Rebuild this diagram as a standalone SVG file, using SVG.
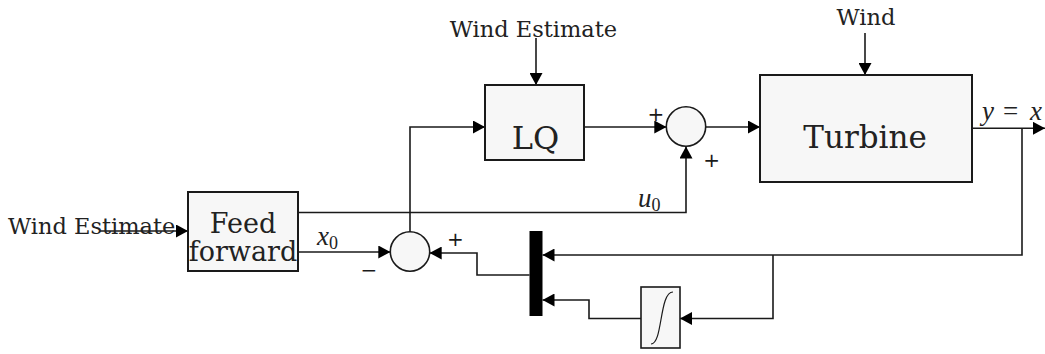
<svg xmlns="http://www.w3.org/2000/svg" width="1045" height="354" viewBox="0 0 1045 354">
<style>
.box{fill:#f7f7f7;stroke:#1a1a1a;stroke-width:2}
.sum{fill:#f7f7f7;stroke:#1a1a1a;stroke-width:1.6}
.wire{fill:none;stroke:#1a1a1a;stroke-width:1.6}
.lbl{font-family:"DejaVu Serif",serif;fill:#222;text-anchor:middle}
.math{font-family:"Liberation Serif",serif;font-style:italic;fill:#222;font-size:27px}
.sub{font-style:normal;font-size:18px}
.sign{font-family:"DejaVu Sans",sans-serif;font-size:20px;fill:#1a1a1a;text-anchor:middle}
</style>
<defs>
<marker id="arr" viewBox="0 0 12 13" refX="12" refY="6.5" markerWidth="12" markerHeight="13" orient="auto" markerUnits="userSpaceOnUse">
<path d="M0,0 L12,6.5 L0,13 z" fill="#000"/>
</marker>
</defs>
<g id="connectors" class="wire">
<path d="M100,231 H188" marker-end="url(#arr)"/>
<path d="M536,38 V85" marker-end="url(#arr)"/>
<path d="M865,33 V75" marker-end="url(#arr)"/>
<path d="M298,212.5 H686 V146.5" marker-end="url(#arr)"/>
<path d="M298,252 H390.3" marker-end="url(#arr)"/>
<path d="M410,231.8 V127 H485" marker-end="url(#arr)"/>
<path d="M584,127 H666.3" marker-end="url(#arr)"/>
<path d="M705.7,127 H760" marker-end="url(#arr)"/>
<path d="M972,128.3 H1045" marker-end="url(#arr)"/>
<path d="M1022,128.3 V255 H542.5" marker-end="url(#arr)"/>
<path d="M773,255 V318.5 H680" marker-end="url(#arr)"/>
<path d="M641,318.5 H589 V300 H542.5" marker-end="url(#arr)"/>
<path d="M529.5,275 H477 V253 H429.7" marker-end="url(#arr)"/>
</g>
<g id="wind-estimate-left"><text class="lbl" x="8" y="233.5" style="text-anchor:start;font-size:22.5px">Wind Estimate</text></g>
<g id="wind-estimate-top"><text class="lbl" x="533.5" y="36.5" style="font-size:22.5px">Wind Estimate</text></g>
<g id="wind"><text class="lbl" x="866" y="25" style="font-size:22.5px">Wind</text></g>
<g id="feedforward">
<rect class="box" x="188" y="192" width="110" height="79"/>
<text class="lbl" x="243" y="233" style="font-size:27px">Feed</text>
<text class="lbl" x="243" y="261" style="font-size:27px">forward</text>
</g>
<g id="lq">
<rect class="box" x="485" y="85" width="99" height="75"/>
<text class="lbl" x="535.5" y="149" style="font-size:32px">LQ</text>
</g>
<g id="turbine">
<rect class="box" x="760" y="75" width="212" height="107"/>
<text class="lbl" x="865" y="148" style="font-size:31px">Turbine</text>
</g>
<g id="sum1">
<circle class="sum" cx="410" cy="251.5" r="19.7"/>
<text class="sign" x="455.5" y="246">+</text>
<text class="sign" x="369" y="277">−</text>
</g>
<g id="sum2">
<circle class="sum" cx="686" cy="126.5" r="19.7"/>
<text class="sign" x="656" y="121">+</text>
<text class="sign" x="711.7" y="167">+</text>
</g>
<g id="mux"><rect x="529.5" y="231" width="13" height="85" fill="#000"/></g>
<g id="integrator">
<rect class="box" x="641" y="287" width="39" height="61" style="stroke-width:1.6"/>
<path d="M651,344 C663,344 659,292 673,292" fill="none" stroke="#1a1a1a" stroke-width="1.2"/>
</g>
<g id="labels">
<text class="math" x="317" y="245">x<tspan class="sub" dy="4">0</tspan></text>
<text class="math" x="638" y="207">u<tspan class="sub" dy="4">0</tspan></text>
<text class="math" y="120"><tspan x="982">y</tspan><tspan x="1003" style="font-style:normal">=</tspan><tspan x="1030">x</tspan></text>
</g>
</svg>
